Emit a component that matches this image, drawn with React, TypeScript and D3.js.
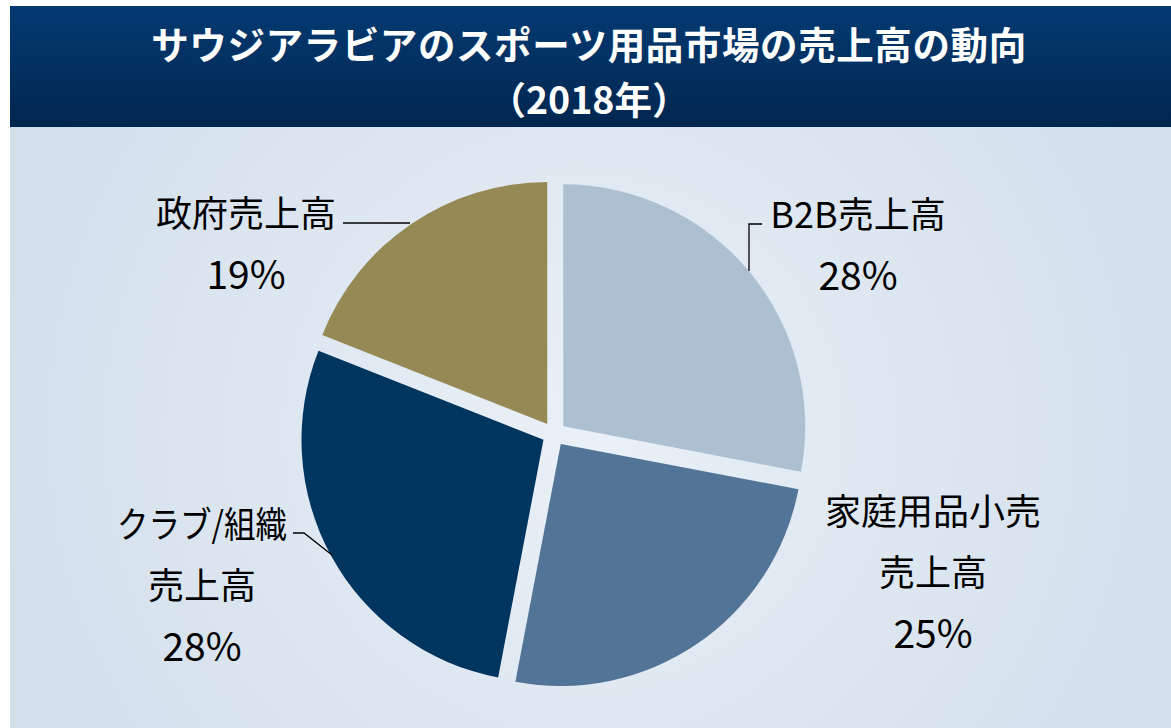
import React from "react";
import * as d3 from "d3";

const categories = ["B2B売上高", "家庭用品小売売上高", "クラブ/組織売上高", "政府売上高"];
const values = [28, 25, 28, 19];
const colors = ["#adc0d1", "#527496", "#00355f", "#958a55"];
const labelLines = [
  ["B2B売上高", "28%"],
  ["家庭用品小売", "売上高", "25%"],
  ["クラブ/組織", "売上高", "28%"],
  ["政府売上高", "19%"],
];
const titleLines = ["サウジアラビアのスポーツ用品市場の売上高の動向", "（2018年）"];

const W = 1171;
const H = 728;
const CX = 554;
const CY = 434;
const R = 242;
const EXPLODE = 12;
const FONT = "'Noto Sans CJK JP', 'Noto Sans', sans-serif";

const labelPos = [
  { x: 858, y: 212 },
  { x: 933, y: 509 },
  { x: 202, y: 522 },
  { x: 246, y: 211 },
];
const leaders = [
  [[749, 271], [749, 224], [762, 224]],
  null,
  [[293, 533], [304, 533], [332, 555]],
  [[343, 223], [410, 223]],
];

export default function App() {
  const pie = d3.pie<number>().sort(null).startAngle(0).endAngle(2 * Math.PI)(values);
  const arc = d3.arc<d3.PieArcDatum<number>>().innerRadius(0).outerRadius(R);
  const line = d3.line();
  return (
    <svg width={W} height={H} style={{ position: "absolute", left: 0, top: 0 }}>
      <defs>
        <linearGradient id="tg" x1="0" y1="0" x2="0" y2="1">
          <stop offset="0%" stopColor="#043a72" />
          <stop offset="100%" stopColor="#01264f" />
        </linearGradient>
        <radialGradient id="bg" cx="590" cy="430" r="620" gradientUnits="userSpaceOnUse">
          <stop offset="0%" stopColor="#eaf0f7" />
          <stop offset="100%" stopColor="#d2dfeb" />
        </radialGradient>
      </defs>
      <rect x={0} y={0} width={W} height={H} fill="#ffffff" />
      <rect x={10} y={6} width={W - 10} height={121} fill="url(#tg)" />
      <rect x={10} y={127} width={W - 10} height={H - 127} fill="url(#bg)" />
      {titleLines.map((t, i) => (
        <text
          key={i}
          x={589}
          y={42 + i * 55}
          textAnchor="middle"
          dominantBaseline="central"
          fill="#ffffff"
          fontFamily={FONT}
          fontWeight="bold"
          fontSize={37.5}
          letterSpacing={i === 0 ? 0.6 : 0}
        >
          {t}
        </text>
      ))}
      <g transform={`translate(${CX},${CY})`}>
        {pie.map((d, i) => {
          const mid = (d.startAngle + d.endAngle) / 2;
          const dx = Math.sin(mid) * EXPLODE;
          const dy = -Math.cos(mid) * EXPLODE;
          return (
            <path
              key={categories[i]}
              d={arc(d) || ""}
              fill={colors[i]}
              transform={`translate(${dx},${dy})`}
            />
          );
        })}
      </g>
      {leaders.map((pts, i) =>
        pts ? (
          <path key={"l" + i} d={line(pts as [number, number][]) || ""} fill="none" stroke="#000" strokeWidth={1.3} />
        ) : null
      )}
      {labelLines.map((lines, i) => (
        <g key={"t" + i}>
          {lines.map((t, j) => {
            const isPct = t.endsWith("%");
            const isClub = t.includes("/");
            return (
              <text
                key={j}
                x={labelPos[i].x}
                y={labelPos[i].y + j * 61}
                textAnchor="middle"
                dominantBaseline="central"
                fill="#000"
                fontFamily={FONT}
                fontSize={isPct ? 39 : 36}
                textLength={isClub ? 170 : undefined}
                lengthAdjust={isClub ? "spacingAndGlyphs" : undefined}
              >
                {t}
              </text>
            );
          })}
        </g>
      ))}
    </svg>
  );
}
